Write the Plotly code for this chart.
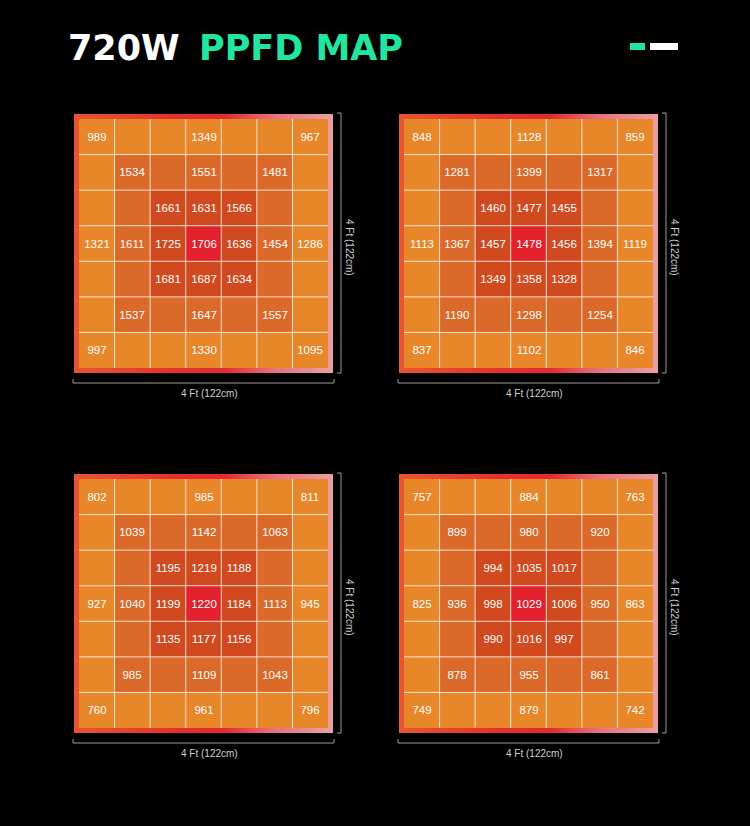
import plotly.graph_objects as go

W, H = 750, 826


def px(x):
    return x / W


def py(y):
    return 1 - y / H


# ---------------- data ----------------
N = None
panel_a = [
    [989, N, N, 1349, N, N, 967],
    [N, 1534, N, 1551, N, 1481, N],
    [N, N, 1661, 1631, 1566, N, N],
    [1321, 1611, 1725, 1706, 1636, 1454, 1286],
    [N, N, 1681, 1687, 1634, N, N],
    [N, 1537, N, 1647, N, 1557, N],
    [997, N, N, 1330, N, N, 1095],
]
panel_b = [
    [848, N, N, 1128, N, N, 859],
    [N, 1281, N, 1399, N, 1317, N],
    [N, N, 1460, 1477, 1455, N, N],
    [1113, 1367, 1457, 1478, 1456, 1394, 1119],
    [N, N, 1349, 1358, 1328, N, N],
    [N, 1190, N, 1298, N, 1254, N],
    [837, N, N, 1102, N, N, 846],
]
panel_c = [
    [802, N, N, 985, N, N, 811],
    [N, 1039, N, 1142, N, 1063, N],
    [N, N, 1195, 1219, 1188, N, N],
    [927, 1040, 1199, 1220, 1184, 1113, 945],
    [N, N, 1135, 1177, 1156, N, N],
    [N, 985, N, 1109, N, 1043, N],
    [760, N, N, 961, N, N, 796],
]
panel_d = [
    [757, N, N, 884, N, N, 763],
    [N, 899, N, 980, N, 920, N],
    [N, N, 994, 1035, 1017, N, N],
    [825, 936, 998, 1029, 1006, 950, 863],
    [N, N, 990, 1016, 997, N, N],
    [N, 878, N, 955, N, 861, N],
    [749, N, N, 879, N, N, 742],
]
# colour zone of each cell (0 = centre, 3 = outer ring)
zone = [
    [3, 3, 3, 3, 3, 3, 3],
    [3, 2, 2, 2, 2, 2, 3],
    [3, 2, 1, 1, 1, 2, 3],
    [3, 2, 1, 0, 1, 2, 3],
    [3, 2, 1, 1, 1, 2, 3],
    [3, 2, 2, 2, 2, 2, 3],
    [3, 3, 3, 3, 3, 3, 3],
]
cols = [0, 1, 2, 3, 4, 5, 6]
rows = [0, 1, 2, 3, 4, 5, 6]
size_label = "4 Ft (122cm)"
title_a = "720W"
title_b = "PPFD MAP"

panels = [panel_a, panel_b, panel_c, panel_d]

# ---------------- style ----------------
c_center, c_r1, c_r2, c_r3 = "#E3222E", "#D14A1F", "#DB6A2A", "#E8862A"
zone_scale = [
    [0, c_center], [1 / 6, c_center],
    [1 / 6, c_r1], [0.5, c_r1],
    [0.5, c_r2], [5 / 6, c_r2],
    [5 / 6, c_r3], [1, c_r3],
]
frame_scale = [
    [0, "#E8552F"], [0.4, "#E5302C"], [0.58, "#E42A30"],
    [0.78, "#E6747E"], [1, "#EA9FA2"],
]

lefts = [74, 399, 74, 399]
tops = [114, 114, 474, 474]
FS = 259            # frame size (px)
BORDER = 5          # frame thickness (px)
cell = (FS - 2 * BORDER) / 7
f = BORDER / cell
lo, hi = -0.5 - f, 6.5 + f

fig = go.Figure()
shapes = []
annotations = []
axis_common = dict(showgrid=False, zeroline=False, showticklabels=False,
                   ticks="", showline=False, fixedrange=True)

for k, (vals, L, T) in enumerate(zip(panels, lefts, tops)):
    base = 2 * k + 1
    over = 2 * k + 2
    bsfx = "" if base == 1 else str(base)
    osfx = str(over)
    xa, ya = "x" + bsfx, "y" + bsfx
    xo, yo = "x" + osfx, "y" + osfx
    # frame (base axes)
    fig.add_trace(go.Scatter(
        x=[lo, hi, hi, lo, lo], y=[lo, lo, hi, hi, lo],
        mode="lines", line=dict(width=0), fill="toself",
        fillgradient=dict(type="horizontal", colorscale=frame_scale),
        hoverinfo="skip", showlegend=False, xaxis=xa, yaxis=ya,
    ))
    text = [["" if v is None else str(v) for v in row] for row in vals]
    # cells (overlay axes, drawn above the frame)
    fig.add_trace(go.Heatmap(
        x=cols, y=rows, z=zone, zmin=0, zmax=3, colorscale=zone_scale,
        showscale=False, text=text, texttemplate="%{text}",
        textfont=dict(family="Liberation Sans, Arial, sans-serif", size=11.5, color="white"),
        hoverinfo="skip", xaxis=xo, yaxis=yo,
    ))
    fig.update_layout(**{
        ("xaxis" + bsfx): dict(domain=[px(L), px(L + FS)], range=[lo, hi],
                               anchor=ya, **axis_common),
        ("yaxis" + bsfx): dict(domain=[py(T + FS), py(T)], range=[hi, lo],
                               anchor=xa, **axis_common),
        ("xaxis" + osfx): dict(overlaying=xa, range=[lo, hi], anchor=yo, **axis_common),
        ("yaxis" + osfx): dict(overlaying=ya, range=[hi, lo], anchor=xo, **axis_common),
    })
    # white grid lines
    for b in [0.5, 1.5, 2.5, 3.5, 4.5, 5.5]:
        shapes.append(dict(type="line", xref=xo, yref=yo, x0=b, x1=b, y0=-0.5, y1=6.5,
                           line=dict(color="rgba(255,245,235,0.85)", width=1)))
        shapes.append(dict(type="line", xref=xo, yref=yo, y0=b, y1=b, x0=-0.5, x1=6.5,
                           line=dict(color="rgba(255,245,235,0.85)", width=1)))
    # brackets
    bc = dict(color="#9a9a9a", width=1)
    rx = L + 267
    shapes += [
        dict(type="line", xref="paper", yref="paper", x0=px(rx), x1=px(rx),
             y0=py(T - 1), y1=py(T + FS), line=bc),
        dict(type="line", xref="paper", yref="paper", x0=px(rx - 4), x1=px(rx),
             y0=py(T - 1), y1=py(T - 1), line=bc),
        dict(type="line", xref="paper", yref="paper", x0=px(rx - 4), x1=px(rx),
             y0=py(T + FS), y1=py(T + FS), line=bc),
    ]
    by = T + 269
    shapes += [
        dict(type="line", xref="paper", yref="paper", x0=px(L - 1), x1=px(L + FS + 1),
             y0=py(by), y1=py(by), line=bc),
        dict(type="line", xref="paper", yref="paper", x0=px(L - 1), x1=px(L - 1),
             y0=py(by - 4), y1=py(by), line=bc),
        dict(type="line", xref="paper", yref="paper", x0=px(L + FS + 1), x1=px(L + FS + 1),
             y0=py(by - 4), y1=py(by), line=bc),
    ]
    lab_font = dict(family="Liberation Sans, Arial, sans-serif", size=10, color="#d0d0d0")
    annotations.append(dict(text=size_label, x=px(L + 135), y=py(T + 279), xref="paper",
                            yref="paper", showarrow=False, xanchor="center",
                            yanchor="middle", font=lab_font))
    annotations.append(dict(text=size_label, x=px(L + 276), y=py(T + 133), xref="paper",
                            yref="paper", showarrow=False, xanchor="center",
                            yanchor="middle", textangle=90, font=lab_font))

# title
title_font = dict(family="DejaVu Sans, sans-serif", size=35)
annotations.append(dict(text="<b>" + title_a + "</b>", x=px(66), y=py(48), xref="paper",
                        yref="paper", showarrow=False, xanchor="left", yanchor="middle",
                        font=dict(color="white", **title_font)))
annotations.append(dict(text="<b>" + title_b + "</b>", x=px(197), y=py(48), xref="paper",
                        yref="paper", showarrow=False, xanchor="left", yanchor="middle",
                        font=dict(color="#22E5A0", **title_font)))
# logo marks
shapes.append(dict(type="rect", xref="paper", yref="paper", x0=px(630), x1=px(645),
                   y0=py(50), y1=py(43), line=dict(width=0), fillcolor="#22E5A0"))
shapes.append(dict(type="rect", xref="paper", yref="paper", x0=px(650), x1=px(678),
                   y0=py(50), y1=py(43), line=dict(width=0), fillcolor="white"))

fig.update_layout(
    width=W, height=H, margin=dict(l=0, r=0, t=0, b=0),
    paper_bgcolor="black", plot_bgcolor="rgba(0,0,0,0)",
    shapes=shapes, annotations=annotations, showlegend=False,
)

fig.write_html("out.html", config={"displayModeBar": False})
with open("out.html", encoding="utf-8") as fh:
    html = fh.read()
html = html.replace("<body>", '<body style="margin:0;background:#000">', 1)
with open("out.html", "w", encoding="utf-8") as fh:
    fh.write(html)
